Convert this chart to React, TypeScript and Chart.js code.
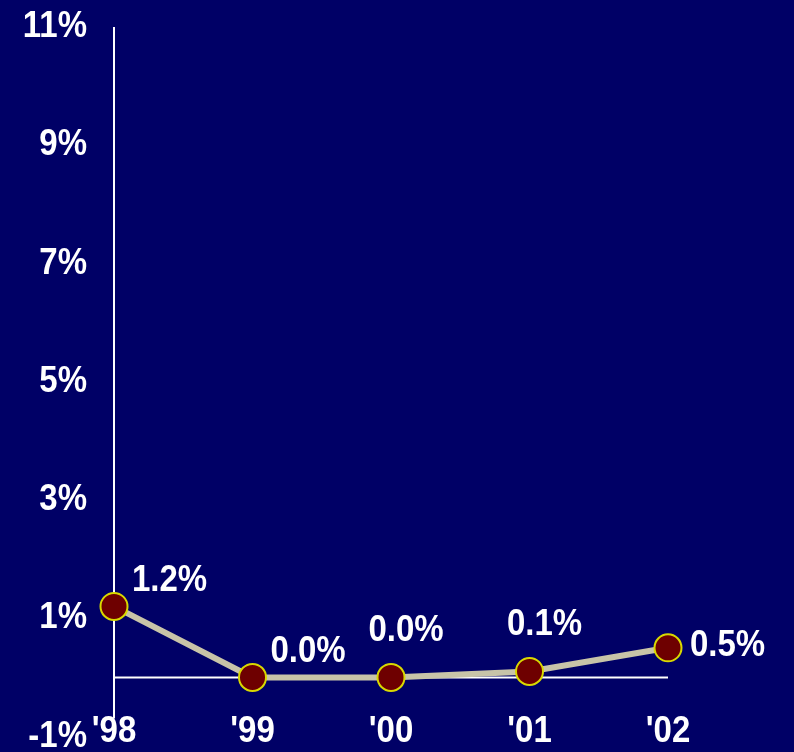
import React, { useEffect, useRef } from 'react';
import { Chart, registerables } from 'chart.js';

Chart.register(...registerables);

const years = ["'98", "'99", "'00", "'01", "'02"];
const rates = [1.2, 0.0, 0.0, 0.1, 0.5];
const valueLabels = ['1.2%', '0.0%', '0.0%', '0.1%', '0.5%'];
const yTickValues = [-1, 1, 3, 5, 7, 9, 11];
const labelPlacement = ['upper-right', 'upper-right', 'above', 'above', 'right'];

const BG = '#000066';
const FONT = '"Liberation Sans", Arial, sans-serif';
const TEXT_STRETCH = 1.1;

function stretchedText(ctx: any, text: string, x: number, y: number) {
  ctx.save();
  ctx.translate(x, y);
  ctx.scale(1, TEXT_STRETCH);
  ctx.fillText(text, 0, 0);
  ctx.restore();
}

const decorPlugin = {
  id: 'decor',
  beforeDraw(chart: any) {
    const { ctx, width, height } = chart;
    ctx.save();
    ctx.fillStyle = BG;
    ctx.fillRect(0, 0, width, height);
    ctx.restore();
  },
  beforeDatasetsDraw(chart: any) {
    const { ctx, chartArea } = chart;
    const y = chart.scales.y;
    ctx.save();
    ctx.strokeStyle = '#ffffff';
    ctx.lineWidth = 2;
    ctx.beginPath();
    ctx.moveTo(chartArea.left, chartArea.top);
    ctx.lineTo(chartArea.left, chartArea.bottom - 18);
    ctx.stroke();
    const y0 = y.getPixelForValue(0);
    ctx.beginPath();
    ctx.moveTo(chartArea.left, y0);
    ctx.lineTo(chartArea.right, y0);
    ctx.stroke();
    ctx.restore();
  },
  afterDatasetsDraw(chart: any) {
    const { ctx, chartArea } = chart;
    const xs = chart.scales.x;
    const ys = chart.scales.y;
    const meta = chart.getDatasetMeta(0);
    ctx.save();
    ctx.fillStyle = '#ffffff';
    ctx.font = `bold 33px ${FONT}`;
    ctx.textBaseline = 'middle';
    // y tick labels
    ctx.textAlign = 'right';
    ys.ticks.forEach((t: any) => {
      stretchedText(ctx, `${t.value}%`, chartArea.left - 27, ys.getPixelForValue(t.value));
    });
    // category labels along the bottom
    ctx.textAlign = 'center';
    years.forEach((lab, i) => {
      stretchedText(ctx, lab, xs.getPixelForValue(i), chartArea.bottom - 5);
    });
    // value labels
    meta.data.forEach((pt: any, i: number) => {
      const p = labelPlacement[i];
      let x = pt.x;
      let yy = pt.y;
      if (p === 'upper-right') {
        ctx.textAlign = 'left';
        x += 18;
        yy -= 25;
      } else if (p === 'above') {
        ctx.textAlign = 'center';
        x += 15;
        yy -= 46;
      } else {
        ctx.textAlign = 'left';
        x += 22;
        yy -= 2;
      }
      stretchedText(ctx, valueLabels[i], x, yy);
    });
    ctx.restore();
  },
};

export default function App() {
  const ref = useRef<HTMLCanvasElement | null>(null);

  useEffect(() => {
    document.body.style.margin = '0';
    document.body.style.overflow = 'hidden';
    document.body.style.background = BG;
    const canvas = ref.current;
    if (!canvas) return;
    const chart = new Chart(canvas, {
      type: 'line',
      data: {
        labels: years,
        datasets: [
          {
            data: rates,
            borderColor: '#c8c4a8',
            borderWidth: 6,
            pointRadius: 13.5,
            pointBackgroundColor: '#6e0000',
            pointBorderColor: '#d8d800',
            pointBorderWidth: 2,
            tension: 0,
          },
        ],
      },
      options: {
        responsive: false,
        animation: false,
        events: [],
        layout: { padding: { left: 0, top: 27, right: 126, bottom: 0 } },
        plugins: { legend: { display: false }, tooltip: { enabled: false } },
        scales: {
          x: {
            offset: false,
            grid: { display: false, drawTicks: false },
            border: { display: false },
            ticks: { display: false },
            afterFit(scale: any) {
              scale.height = 14;
              scale.paddingLeft = 0;
              scale.paddingRight = 0;
            },
          },
          y: {
            min: -1,
            max: 11,
            grid: { display: false, drawTicks: false },
            border: { display: false },
            afterBuildTicks(scale: any) {
              scale.ticks = yTickValues.map((v) => ({ value: v }));
            },
            ticks: { display: false },
            afterFit(scale: any) {
              scale.width = 114;
              scale.paddingTop = 0;
              scale.paddingBottom = 0;
            },
          },
        },
      },
      plugins: [decorPlugin],
    });
    return () => chart.destroy();
  }, []);

  return (
    <div style={{ position: 'fixed', left: 0, top: 0, width: 794, height: 752 }}>
      <canvas ref={ref} width={794} height={752} />
    </div>
  );
}
